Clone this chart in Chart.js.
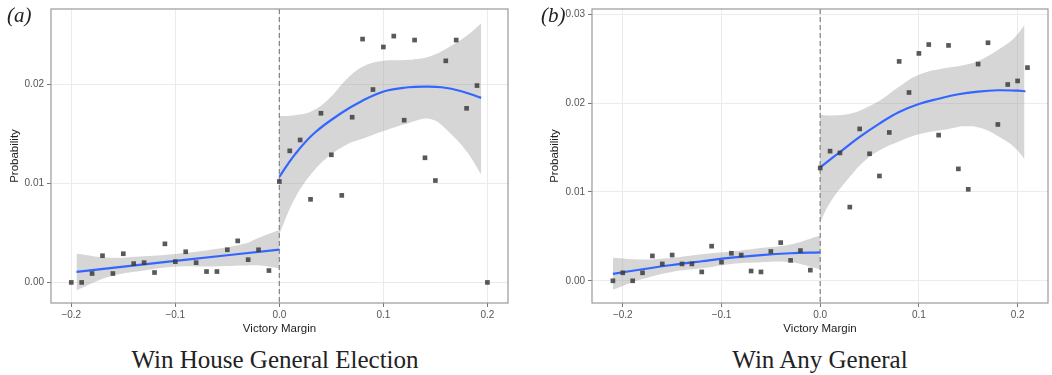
<!DOCTYPE html>
<html>
<head>
<meta charset="utf-8">
<script src="https://cdn.jsdelivr.net/npm/chart.js@4.4.1/dist/chart.umd.min.js"></script>
<style>
  html, body { margin: 0; padding: 0; background: #ffffff; }
  body { width: 1052px; height: 375px; position: relative; overflow: hidden; }
  .panel { position: absolute; top: 0; height: 340px; }
  #wa { left: 0; width: 526px; }
  #wb { left: 540px; width: 512px; }
  .tag { position: absolute; top: 3px; font-family: "Liberation Serif", "DejaVu Serif", serif; font-style: italic; font-size: 21px; color: #222; }
  .cap { position: absolute; top: 346px; font-family: "Liberation Serif", "DejaVu Serif", serif; font-size: 25px; color: #222; text-align: center; white-space: nowrap; }
</style>
</head>
<body>
<div class="panel" id="wa"><canvas id="ca"></canvas></div>
<div class="panel" id="wb"><canvas id="cb"></canvas></div>
<div class="tag" style="left:7px">(<span>a</span>)</div>
<div class="tag" style="left:541px">(<span>b</span>)</div>
<div class="cap" style="left:125px;width:300px">Win House General Election</div>
<div class="cap" style="left:670px;width:300px">Win Any General</div>
<script>
// ---------- data ----------
const xTicks = [-0.2, -0.1, 0, 0.1, 0.2];
const yTicksA = [0, 0.01, 0.02];
const yTicksB = [0, 0.01, 0.02, 0.03];

// Panel (a): Win House General Election
const marginA = [-0.20,-0.19,-0.18,-0.17,-0.16,-0.15,-0.14,-0.13,-0.12,-0.11,-0.10,-0.09,-0.08,-0.07,-0.06,-0.05,-0.04,-0.03,-0.02,-0.01,
                 0.00,0.01,0.02,0.03,0.04,0.05,0.06,0.07,0.08,0.09,0.10,0.11,0.12,0.13,0.14,0.15,0.16,0.17,0.18,0.19,0.20];
const probA = [0.0000,0.0000,0.0009,0.0027,0.0009,0.0029,0.0019,0.0020,0.0010,0.0039,0.0021,0.0031,0.0020,0.0011,0.0011,0.0033,0.0042,0.0023,0.0033,0.0012,
               0.0102,0.0133,0.0144,0.0084,0.0171,0.0129,0.0088,0.0167,0.0246,0.0195,0.0238,0.0249,0.0164,0.0245,0.0126,0.0103,0.0224,0.0245,0.0176,0.0199,0.0000];

const fitALeftX = [-0.195,-0.10,0];
const fitALeftY = [0.00107,0.00217,0.00332];
const bandALeftX = [-0.195,-0.163,-0.13,-0.098,-0.066,-0.034,-0.018,0];
const bandALeftHi = [0.0029,0.0025,0.00265,0.0029,0.0033,0.0039,0.0046,0.0053];
const bandALeftLo = [-0.0008,0.0006,0.0012,0.0016,0.0016,0.0017,0.0017,0.0014];

const fitARightX = [0,0.015,0.034,0.060,0.079,0.101,0.124,0.140,0.156,0.175,0.194];
const fitARightY = [0.01067,0.01295,0.01513,0.01715,0.01832,0.01933,0.01973,0.0198,0.01973,0.01933,0.01866];
const bandARightX = [0,0.015,0.031,0.047,0.066,0.082,0.100,0.124,0.146,0.165,0.181,0.194];
const bandARightHi = [0.0168,0.0169,0.0173,0.0185,0.0207,0.0219,0.0224,0.0225,0.0229,0.0239,0.0250,0.0262];
const bandARightLo = [0.0049,0.0085,0.0110,0.0127,0.0140,0.0146,0.0153,0.0161,0.0165,0.0150,0.0131,0.0109];

// Panel (b): Win Any General
const marginB = [-0.21,-0.20,-0.19,-0.18,-0.17,-0.16,-0.15,-0.14,-0.13,-0.12,-0.11,-0.10,-0.09,-0.08,-0.07,-0.06,-0.05,-0.04,-0.03,-0.02,-0.01,
                 0.00,0.01,0.02,0.03,0.04,0.05,0.06,0.07,0.08,0.09,0.10,0.11,0.12,0.13,0.14,0.15,0.16,0.17,0.18,0.19,0.20,0.21];
const probB = [0.0000,0.0009,0.0000,0.0009,0.0028,0.0019,0.0029,0.0019,0.0019,0.0010,0.0039,0.0021,0.0031,0.0029,0.0011,0.0010,0.0033,0.0043,0.0023,0.0034,0.0012,
               0.0127,0.0146,0.0144,0.0083,0.0171,0.0143,0.0118,0.0167,0.0247,0.0212,0.0256,0.0266,0.0164,0.0265,0.0126,0.0103,0.0244,0.0268,0.0176,0.0221,0.0225,0.0240];

const fitBLeftX = [-0.21,-0.18,-0.15,-0.12,-0.09,-0.06,-0.03,0];
const fitBLeftY = [0.00078,0.0013,0.00178,0.0022,0.0026,0.0029,0.0031,0.0032];
const bandBLeftX = [-0.21,-0.18,-0.15,-0.12,-0.09,-0.06,-0.03,0];
const bandBLeftHi = [0.0026,0.0024,0.0026,0.0030,0.0033,0.0037,0.0041,0.0051];
const bandBLeftLo = [-0.0010,0.0002,0.0010,0.0014,0.0019,0.0021,0.0021,0.0013];

const fitBRightX = [0,0.02,0.04,0.06,0.08,0.10,0.12,0.14,0.16,0.18,0.20,0.208];
const fitBRightY = [0.01276,0.0145,0.0162,0.0177,0.0190,0.0199,0.0205,0.0210,0.0213,0.02145,0.0214,0.02134];
const bandBRightX = [0,0.01,0.03,0.045,0.062,0.078,0.10,0.13,0.146,0.163,0.183,0.197,0.207];
const bandBRightHi = [0.0187,0.0186,0.0188,0.0194,0.0204,0.0217,0.0232,0.0240,0.0243,0.0249,0.0262,0.0274,0.0288];
const bandBRightLo = [0.0066,0.0088,0.0117,0.0135,0.0148,0.0156,0.0165,0.0171,0.0174,0.0172,0.0161,0.0150,0.0137];

// ---------- helpers ----------
const zip = (xs, ys) => xs.map((x, i) => ({ x: x, y: ys[i] }));
const BAND = 'rgba(153,153,153,0.4)';
const BLUE = '#3366FF';

function bandSets(xs, hi, lo) {
  return [
    { type: 'line', data: zip(xs, hi), borderWidth: 0, borderColor: 'rgba(0,0,0,0)', pointRadius: 0, fill: false, tension: 0.4, order: 5 },
    { type: 'line', data: zip(xs, lo), borderWidth: 0, borderColor: 'rgba(0,0,0,0)', pointRadius: 0, fill: '-1', backgroundColor: BAND, tension: 0.4, order: 5 }
  ];
}
function fitSet(xs, ys) {
  return { type: 'line', data: zip(xs, ys), borderColor: BLUE, borderWidth: 2.2, pointRadius: 0, fill: false, tension: 0.4, order: 2 };
}

const frame = {
  id: 'frame',
  beforeDatasetsDraw(chart) {
    const { ctx, chartArea: a, scales } = chart;
    const x0 = scales.x.getPixelForValue(0);
    ctx.save();
    ctx.strokeStyle = '#8a8a8a';
    ctx.lineWidth = 1.3;
    ctx.setLineDash([5, 3]);
    ctx.beginPath();
    ctx.moveTo(x0, a.top);
    ctx.lineTo(x0, a.bottom);
    ctx.stroke();
    ctx.restore();
  },
  afterDraw(chart) {
    const { ctx, chartArea: a } = chart;
    ctx.save();
    ctx.strokeStyle = '#999999';
    ctx.lineWidth = 1.2;
    ctx.strokeRect(a.left, a.top, a.right - a.left, a.bottom - a.top);
    ctx.restore();
  }
};

function fmtX(v) {
  if (Math.abs(v) < 1e-9) return '0.0';
  return (v < 0 ? '\u2212' : '') + Math.abs(v).toFixed(1);
}

function makeChart(id, cfg) {
  const ds = [
    ...bandSets(cfg.bLX, cfg.bLH, cfg.bLL),
    ...bandSets(cfg.bRX, cfg.bRH, cfg.bRL),
    fitSet(cfg.fLX, cfg.fLY),
    fitSet(cfg.fRX, cfg.fRY),
    { type: 'scatter', data: zip(cfg.mx, cfg.py), pointStyle: 'rect', pointRadius: 3.3, backgroundColor: 'rgba(60,60,60,0.85)', borderWidth: 0, order: 1 }
  ];
  return new Chart(document.getElementById(id), {
    type: 'scatter',
    data: { datasets: ds },
    options: {
      responsive: true,
      maintainAspectRatio: false,
      animation: false,
      events: [],
      layout: { padding: { left: 0, right: cfg.padR, top: 7, bottom: 0 } },
      plugins: { legend: { display: false }, tooltip: { enabled: false } },
      scales: {
        x: {
          type: 'linear', min: cfg.xMin, max: cfg.xMax,
          afterBuildTicks: s => { s.ticks = xTicks.map(v => ({ value: v })); },
          afterFit: s => { s.height = 37; },
          grid: { color: '#ebebeb', lineWidth: 1, tickColor: '#777', tickLength: 4 },
          border: { display: false },
          ticks: { color: '#555', font: { family: 'Liberation Sans, Arial, sans-serif', size: 10 }, padding: 2, maxRotation: 0, autoSkip: false, callback: v => fmtX(v) },
          title: { display: true, text: 'Victory Margin', color: '#222', font: { family: 'Liberation Sans, Arial, sans-serif', size: 11.5 }, padding: { top: 0, bottom: 4 } }
        },
        y: {
          type: 'linear', min: cfg.yMin, max: cfg.yMax,
          afterBuildTicks: s => { s.ticks = cfg.yTicks.map(v => ({ value: v })); },
          afterFit: s => { s.width = cfg.yW; },
          grid: { color: '#ebebeb', lineWidth: 1, tickColor: '#777', tickLength: 4 },
          border: { display: false },
          ticks: { color: '#555', font: { family: 'Liberation Sans, Arial, sans-serif', size: 10 }, padding: 3, autoSkip: false, callback: v => v.toFixed(2) },
          title: { display: true, text: 'Probability', color: '#222', font: { family: 'Liberation Sans, Arial, sans-serif', size: 11.5 }, padding: { top: 8, bottom: 0 } }
        }
      }
    },
    plugins: [frame]
  });
}

makeChart('ca', {
  mx: marginA, py: probA,
  fLX: fitALeftX, fLY: fitALeftY, fRX: fitARightX, fRY: fitARightY,
  bLX: bandALeftX, bLH: bandALeftHi, bLL: bandALeftLo,
  bRX: bandARightX, bRH: bandARightHi, bRL: bandARightLo,
  xMin: -0.2195, xMax: 0.2198, yMin: -0.00208, yMax: 0.02764, yTicks: yTicksA,
  yW: 51, padR: 18
});
makeChart('cb', {
  mx: marginB, py: probB,
  fLX: fitBLeftX, fLY: fitBLeftY, fRX: fitBRightX, fRY: fitBRightY,
  bLX: bandBLeftX, bLH: bandBLeftHi, bLL: bandBLeftLo,
  bRX: bandBRightX, bRH: bandBRightHi, bRL: bandBRightLo,
  xMin: -0.2312, xMax: 0.2308, yMin: -0.0025, yMax: 0.0306, yTicks: yTicksB,
  yW: 52, padR: 4
});
</script>
</body>
</html>
